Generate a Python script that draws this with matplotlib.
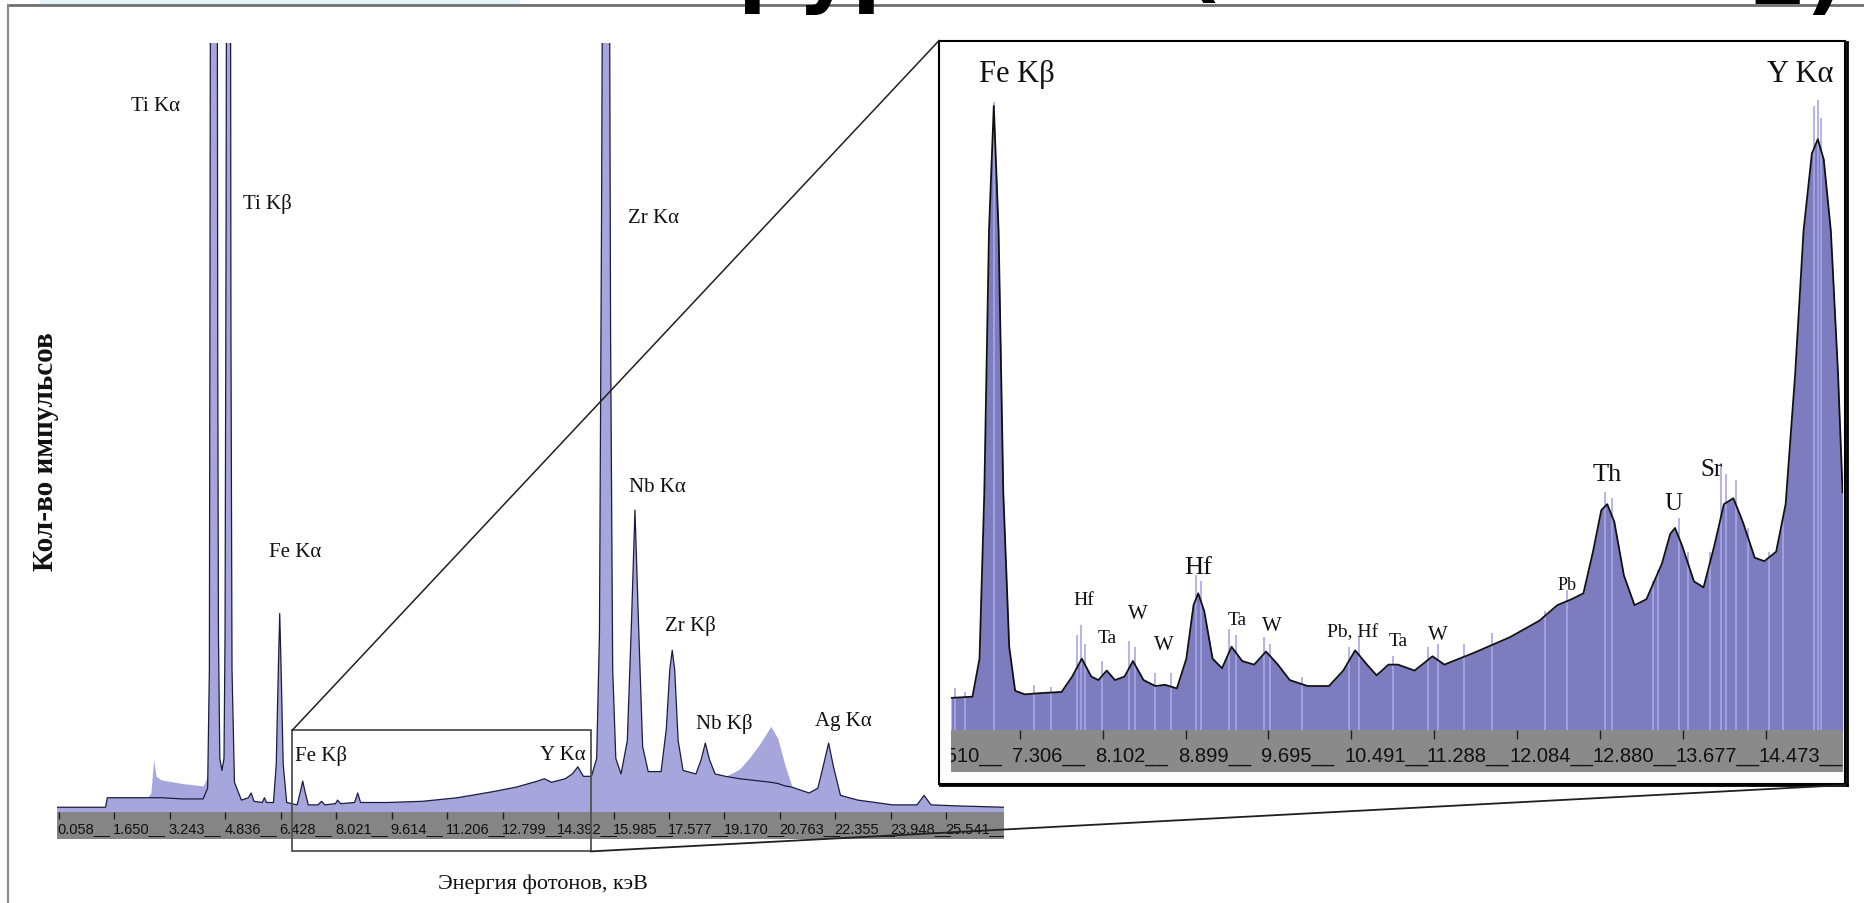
import matplotlib
matplotlib.use("Agg")
import matplotlib.pyplot as plt
from matplotlib.patches import Rectangle
from matplotlib.lines import Line2D

W, H = 1864, 904

# ---- main spectrum (energy keV, counts arb.) ----
main_energy = [0.005, 1.40, 1.45, 2.60, 2.70, 2.78, 2.85, 3.00, 3.60, 4.20, 4.33, 4.38, 4.40, 4.42,
               4.60, 4.62, 4.64, 4.68, 4.74, 4.80, 4.83, 4.86, 4.88, 4.98, 5.00, 5.03, 5.10, 5.30,
               5.50, 5.58, 5.66, 5.90, 5.96, 6.02, 6.22, 6.30, 6.36, 6.40, 6.44, 6.50, 6.60, 6.90,
               7.00, 7.06, 7.12, 7.22, 7.50, 7.60, 7.70, 8.00, 8.06, 8.15, 8.55, 8.64, 8.72, 9.00,
               9.50, 10.5, 11.5, 12.5, 13.2, 13.8, 14.0, 14.2, 14.6, 14.8, 14.96, 15.12, 15.35,
               15.50, 15.58, 15.64, 15.69, 15.85, 15.90, 15.96, 16.05, 16.20, 16.38, 16.50, 16.60,
               16.70, 16.82, 16.98, 17.35, 17.50, 17.60, 17.67, 17.74, 17.84, 17.98, 18.35, 18.50,
               18.62, 18.74, 18.90, 19.20, 19.60, 19.90, 20.20, 20.50, 20.70, 20.90, 21.10, 21.60,
               21.85, 22.00, 22.16, 22.30, 22.50, 23.00, 24.00, 24.70, 24.90, 25.10, 26.00, 27.21]
main_fit = [4, 4, 12, 12, 12, 12, 12, 12, 11, 11, 20, 120, 500, 900,
            900, 400, 150, 45, 35, 45, 150, 500, 900, 900, 400, 120, 25, 10,
            12, 16, 9, 8, 12, 8, 8, 40, 120, 167, 120, 40, 8, 6,
            18, 26, 18, 6, 6, 9, 6, 7, 10, 7, 8, 16, 8, 8,
            8, 9, 12, 17, 21, 26, 28, 25, 28, 32, 38, 30, 30,
            45, 150, 500, 900, 900, 400, 120, 45, 32, 60, 160, 254,
            160, 55, 34, 34, 70, 120, 136, 120, 60, 35, 32, 44,
            58, 44, 32, 30, 28, 27, 26, 25, 24, 22, 21, 16,
            20, 38, 58, 38, 14, 10, 6, 6, 14, 6, 5, 4]
# raw counts that rise above the fit (low-energy bump and scatter hump)
bump_energy = [2.60, 2.70, 2.78, 2.85, 3.00, 3.60, 4.20, 4.33]
bump_counts = [12, 16, 44, 30, 27, 24, 22, 30]
hump_energy = [19.20, 19.60, 19.90, 20.20, 20.50, 20.70, 20.90, 21.10]
hump_counts = [30, 36, 46, 58, 72, 62, 40, 22]

main_ticks = [0.058, 1.650, 3.243, 4.836, 6.428, 8.021, 9.614, 11.206, 12.799, 14.392,
              15.985, 17.577, 19.170, 20.763, 22.355, 23.948, 25.541]
main_names = ["Ti Kα", "Ti Kβ", "Fe Kα", "Fe Kβ", "Y Kα", "Zr Kα", "Nb Kα", "Zr Kβ", "Nb Kβ", "Ag Kα"]

# ---- inset (zoomed region) ----
inset_energy = [6.647, 6.853, 6.921, 6.967, 7.012, 7.058, 7.104, 7.149, 7.206, 7.263, 7.355, 7.503,
                7.709, 7.811, 7.903, 7.994, 8.063, 8.142, 8.222, 8.314, 8.394, 8.496, 8.610, 8.702,
                8.816, 8.907, 8.976, 9.021, 9.079, 9.159, 9.250, 9.341, 9.444, 9.558, 9.672, 9.786,
                9.900, 10.071, 10.277, 10.414, 10.528, 10.642, 10.734, 10.848, 10.939, 11.099,
                11.271, 11.385, 11.670, 12.013, 12.298, 12.469, 12.606, 12.720, 12.812, 12.892,
                12.949, 13.017, 13.109, 13.211, 13.325, 13.474, 13.554, 13.600, 13.668, 13.782,
                13.874, 13.977, 14.069, 14.160, 14.251, 14.365, 14.457, 14.571, 14.662, 14.754,
                14.834, 14.914, 14.971, 15.028, 15.096, 15.165, 15.209]
inset_fit = [27, 28, 60, 200, 420, 525, 420, 200, 70, 33, 30, 31,
             32, 45, 60, 45, 42, 50, 42, 45, 58, 42, 37, 38,
             35, 60, 105, 115, 100, 60, 52, 70, 58, 55, 66, 55,
             42, 37, 37, 50, 67, 55, 46, 55, 55, 50,
             62, 55, 65, 78, 92, 105, 110, 115, 150, 185,
             190, 175, 130, 105, 110, 140, 165, 170, 155, 125,
             120, 155, 190, 195, 175, 145, 142, 150, 190, 300,
             420, 485, 497, 480, 420, 300, 200]
spike_energy = [6.681, 6.784, 7.058, 7.446, 7.606, 7.857, 7.891, 7.937, 8.097, 8.359, 8.416, 8.610,
                8.759, 8.999, 9.044, 9.318, 9.387, 9.649, 9.706, 10.015, 10.471, 10.563, 10.888,
                11.230, 11.322, 11.573, 11.841, 12.355, 12.560, 12.927, 12.996, 13.384, 13.441,
                13.635, 13.726, 13.932, 14.046, 14.092, 14.183, 14.298, 14.503, 14.640, 14.936,
                14.971, 15.006]
spike_counts = [35, 32, 528, 38, 36, 80, 88, 72, 58, 75, 70, 48,
                48, 130, 125, 85, 80, 78, 72, 45, 70, 78, 62,
                70, 72, 72, 82, 100, 118, 200, 195, 125, 135,
                178, 150, 150, 225, 215, 210, 170, 150, 175, 525,
                530, 515]
inset_ticks = [6.510, 7.306, 8.102, 8.899, 9.695, 10.491, 11.288, 12.084, 12.880, 13.677, 14.473]
inset_names = ["Fe Kβ", "Y Kα", "Hf", "Ta", "W", "W", "Hf", "Ta", "W", "Pb, Hf", "Ta", "W",
               "Pb", "Th", "U", "Sr"]

SERIF = ['Liberation Serif', 'DejaVu Serif']
NARROW = ['Liberation Sans Narrow', 'Liberation Sans', 'DejaVu Sans']
FILL_MAIN = '#a6a6dc'
FILL_INSET = '#7c7cbf'


def rect(x0, y0, x1, y1):
    # pixel box (top-left origin) -> figure fraction rect
    return [x0 / W, 1 - y1 / H, (x1 - x0) / W, (y1 - y0) / H]


def fx(x):
    return x / W


def fy(y):
    return 1 - y / H


fig = plt.figure(figsize=(W / 100, H / 100), dpi=100)
fig.patch.set_facecolor('white')

# cropped title from the slide above (only the descenders remain)
fig.add_artist(Rectangle((fx(40), fy(7)), (520 - 40) / W, 7 / H, transform=fig.transFigure,
                         facecolor='#e6f3f8', edgecolor='none'))
for s, x, yb in [("рур", 738, -3), ("(", 1184, -8), ("2)", 1748, 4)]:
    fig.text(fx(x), fy(yb), s, fontsize=60, fontweight='bold', va='baseline', ha='left',
             family=['DejaVu Sans'], color='black')
fig.add_artist(Line2D([fx(8), 1.0], [fy(6), fy(6)], transform=fig.transFigure, color='#707070', lw=2))
fig.add_artist(Line2D([fx(8), fx(8)], [fy(6), 0], transform=fig.transFigure, color='#8a8a8a', lw=1.5))

# ---- main plot ----
xl_main = (0.005, 27.21)
ax = fig.add_axes(rect(57, 44, 1004.5, 813))
ax.fill_between(bump_energy, bump_counts, color=FILL_MAIN, lw=0)
ax.fill_between(hump_energy, hump_counts, color=FILL_MAIN, lw=0)
ax.fill_between(main_energy, main_fit, color=FILL_MAIN, lw=0)
ax.plot(main_energy, main_fit, color='#1c1c40', lw=0.9)
ax.set_xlim(*xl_main)
ax.set_ylim(0, 647)
ax.axis('off')

main_pos = [(2.84, 594), (6.05, 512), (6.83, 219), (7.58, 48), (14.54, 48), (17.14, 500),
            (17.24, 274), (18.20, 157), (19.15, 75), (22.57, 77)]
for name, (e, c) in zip(main_names, main_pos):
    ax.text(e, c, name, ha='center', va='center', fontsize=15, family=SERIF, color='#111111',
            clip_on=False)

bar = fig.add_axes(rect(57, 813, 1004.5, 839.5))
bar.set_facecolor('#858585')
bar.set_xlim(*xl_main)
bar.set_ylim(0, 1)
bar.set_xticks([])
bar.set_yticks([])
for sp in bar.spines.values():
    sp.set_visible(False)
bar.vlines(main_ticks, 0.72, 1.0, color='#202020', lw=1)
for t in main_ticks:
    bar.text(t - 0.03, 0.38, f"{t:.3f}__", ha='left', va='center', fontsize=10.5, family=NARROW,
             color='#111111', clip_on=True)

fig.text(fx(46), fy(452), "Кол-во импульсов", rotation=90, ha='center', va='center',
         fontsize=21, fontweight='bold', family=SERIF, color='#111111')
fig.text(fx(543), fy(884), "Энергия фотонов, кэВ", ha='center', va='center',
         fontsize=16, family=SERIF, color='#111111')

# ---- inset ----
xl_inset = (6.647, 15.209)
ins = fig.add_axes(rect(951, 41.6, 1842.6, 731))
ins.vlines(spike_energy, 0, spike_counts, color='#a8a8e8', lw=1.2)
ins.fill_between(inset_energy, inset_fit, color=FILL_INSET, lw=0)
ins.plot(inset_energy, inset_fit, color='#111111', lw=1.3)
ins.set_xlim(*xl_inset)
ins.set_ylim(0, 580)
ins.axis('off')

inset_pos = [(7.275, 552), (14.798, 552), (7.926, 110), (8.143, 78), (8.439, 98), (8.690, 72),
             (9.021, 137), (9.398, 93), (9.729, 88), (10.505, 83), (10.939, 75), (11.327, 80),
             (12.560, 122), (12.948, 215), (13.588, 191), (13.953, 220)]
inset_sizes = [22, 22, 14, 14, 15, 15, 19, 14, 15, 14, 14, 15, 13, 19, 18, 18]
for name, (e, c), fs in zip(inset_names, inset_pos, inset_sizes):
    ins.text(e, c, name, ha='center', va='center', fontsize=fs, family=SERIF, color='#111111',
             clip_on=False)

ibar = fig.add_axes(rect(951, 731, 1842.6, 772.7))
ibar.set_facecolor('#8a8a8a')
ibar.set_xlim(*xl_inset)
ibar.set_ylim(0, 1)
ibar.set_xticks([])
ibar.set_yticks([])
for sp in ibar.spines.values():
    sp.set_visible(False)
ibar.vlines(inset_ticks, 0.78, 1.0, color='#202020', lw=1)
for t in inset_ticks:
    ibar.text(t - 0.07, 0.4, f"{t:.3f}__", ha='left', va='center', fontsize=14.5, family=NARROW,
              color='#111111', clip_on=True)

# inset frame with shadow
fig.add_artist(Rectangle((fx(939), fy(784.6)), (1845 - 939) / W, (784.6 - 41.6) / H,
                         transform=fig.transFigure, fill=False, edgecolor='black', lw=1.5))
fig.add_artist(Line2D([fx(1846.5), fx(1846.5)], [fy(43), fy(786)], transform=fig.transFigure,
                      color='black', lw=2))
fig.add_artist(Line2D([fx(940), fx(1846.5)], [fy(786), fy(786)], transform=fig.transFigure,
                      color='black', lw=2))

# zoom box in main plot and connectors
fig.add_artist(Rectangle((fx(292.4), fy(852.4)), (590.8 - 292.4) / W, (852.4 - 731.1) / H,
                         transform=fig.transFigure, fill=False, edgecolor='#505050', lw=1.3))
fig.add_artist(Line2D([fx(292.4), fx(939)], [fy(731.1), fy(41.6)], transform=fig.transFigure,
                      color='#202020', lw=1.1))
fig.add_artist(Line2D([fx(590.8), fx(1845)], [fy(852.4), fy(786)], transform=fig.transFigure,
                      color='#202020', lw=1.3))

fig.savefig("out.png", dpi=100)
